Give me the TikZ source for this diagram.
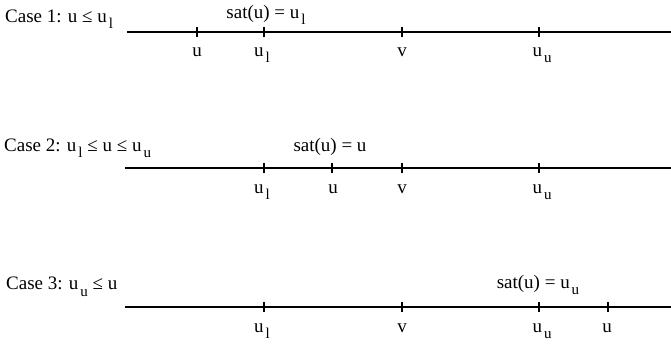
\documentclass[tikz,border=0pt]{standalone}
\usepackage{fontspec}
\setmainfont{Liberation Serif}
\newcommand\mysub[1]{\hspace{2pt}\raisebox{-6pt}{\fontsize{15}{15}\selectfont #1}}
\begin{document}
\begin{tikzpicture}[x=1pt,y=-1pt,
  axis/.style={line width=2pt},
  tick/.style={line width=1.6pt},
  lbl/.style={font=\fontsize{19}{21}\selectfont, inner sep=0pt, anchor=base},
  case/.style={font=\fontsize{19}{21}\selectfont, inner sep=0pt, anchor=base west}]
\useasboundingbox (0,0) rectangle (671,344);
% Row 1
\coordinate (a1) at (127,32.5);
\coordinate (b1) at (671,32.5);
\draw[axis] (a1) -- (b1);
\foreach \x/\n in {197/t1a,264/t1b,402/t1c,539/t1d}{
  \coordinate (\n) at (\x,32.5);
  \draw[tick] ([yshift=-5pt]\n) -- ([yshift=5pt]\n);
}
\node[case] (c1) at (5,23) {Case 1: u ≤ u\mysub{l}};
\node[lbl] (s1) at (266,19) {sat(u) = u\mysub{l}};
\node[lbl] (l1a) at (197,57) {u};
\node[lbl] (l1b) at (262,57) {u\mysub{l}};
\node[lbl] (l1c) at (402,57) {v};
\node[lbl] (l1d) at (542,57) {u\mysub{u}};
% Row 2
\coordinate (a2) at (125,168.5);
\coordinate (b2) at (671,168.5);
\draw[axis] (a2) -- (b2);
\foreach \x/\n in {264/t2a,332/t2b,402/t2c,539/t2d}{
  \coordinate (\n) at (\x,168.5);
  \draw[tick] ([yshift=-5pt]\n) -- ([yshift=5pt]\n);
}
\node[case] (c2) at (4,152) {Case 2: u\mysub{l} ≤ u ≤ u\mysub{u}};
\node[lbl] (s2) at (330,152) {sat(u) = u};
\node[lbl] (l2a) at (262,194) {u\mysub{l}};
\node[lbl] (l2b) at (333,194) {u};
\node[lbl] (l2c) at (402,194) {v};
\node[lbl] (l2d) at (542,194) {u\mysub{u}};
% Row 3
\coordinate (a3) at (125,306.5);
\coordinate (b3) at (671,306.5);
\draw[axis] (a3) -- (b3);
\foreach \x/\n in {264/t3a,402/t3b,539/t3c,608/t3d}{
  \coordinate (\n) at (\x,306.5);
  \draw[tick] ([yshift=-5pt]\n) -- ([yshift=5pt]\n);
}
\node[case] (c3) at (6,290) {Case 3: u\mysub{u} ≤ u};
\node[lbl] (s3) at (538,288) {sat(u) = u\mysub{u}};
\node[lbl] (l3a) at (262,332) {u\mysub{l}};
\node[lbl] (l3b) at (402,332) {v};
\node[lbl] (l3c) at (542,332) {u\mysub{u}};
\node[lbl] (l3d) at (607,332) {u};
\end{tikzpicture}
\end{document}
